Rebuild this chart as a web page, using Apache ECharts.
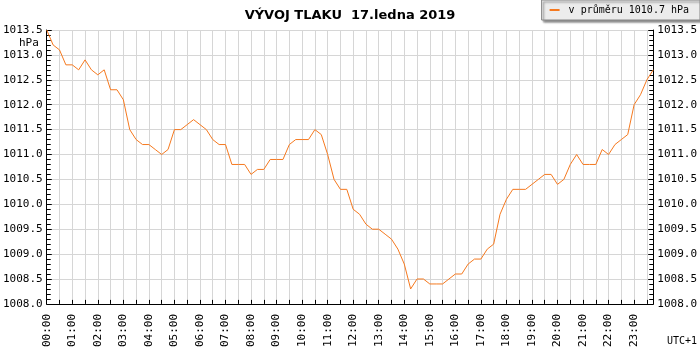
<!DOCTYPE html>
<html>
<head>
<meta charset="utf-8">
<script src="https://cdn.jsdelivr.net/npm/echarts@6/dist/echarts.min.js"></script>
<style>
  html, body { margin: 0; padding: 0; background: #fff; }
  #chart { width: 700px; height: 350px; }
</style>
</head>
<body>
<div id="chart"></div>
<script>
// pressure readings every 15 min, hPa
const pressure = [
  1013.5, 1013.2, 1013.1, 1012.8, 1012.8, 1012.7, 1012.9, 1012.7,
  1012.6, 1012.7, 1012.3, 1012.3, 1012.1, 1011.5, 1011.3, 1011.2,
  1011.2, 1011.1, 1011.0, 1011.1, 1011.5, 1011.5, 1011.6, 1011.7,
  1011.6, 1011.5, 1011.3, 1011.2, 1011.2, 1010.8, 1010.8, 1010.8,
  1010.6, 1010.7, 1010.7, 1010.9, 1010.9, 1010.9, 1011.2, 1011.3,
  1011.3, 1011.3, 1011.5, 1011.4, 1011.0, 1010.5, 1010.3, 1010.3,
  1009.9, 1009.8, 1009.6, 1009.5, 1009.5, 1009.4, 1009.3, 1009.1,
  1008.8, 1008.3, 1008.5, 1008.5, 1008.4, 1008.4, 1008.4, 1008.5,
  1008.6, 1008.6, 1008.8, 1008.9, 1008.9, 1009.1, 1009.2, 1009.8,
  1010.1, 1010.3, 1010.3, 1010.3, 1010.4, 1010.5, 1010.6, 1010.6,
  1010.4, 1010.5, 1010.8, 1011.0, 1010.8, 1010.8, 1010.8, 1011.1,
  1011.0, 1011.2, 1011.3, 1011.4, 1012.0, 1012.2, 1012.5, 1012.7
]
// time categories 00:00 .. 23:45
const times = []
for (let h = 0; h < 24; h++) {
  for (let m = 0; m < 60; m += 15) {
    times.push(String(h).padStart(2, '0') + ':' + String(m).padStart(2, '0'))
  }
}
const seriesName = 'v průměru 1010.7 hPa'
const titleText = 'VÝVOJ TLAKU  17.ledna 2019'
const yMin = 1008.0
const yMax = 1013.5

const mono = '"DejaVu Sans Mono", "Liberation Mono", monospace'
const lineColor = '#f5791f'

const chart = echarts.init(document.getElementById('chart'), null, { renderer: 'canvas' })

function yAxisCfg(pos) {
  return {
    type: 'value',
    position: pos,
    min: yMin,
    max: yMax,
    interval: 0.5,
    axisLine: { show: true, lineStyle: { color: '#000', width: 1 } },
    axisTick: { show: true, inside: true, length: 5, lineStyle: { color: '#000' } },
    minorTick: { show: true, splitNumber: 5, length: 4, lineStyle: { color: '#000' } },
    axisLabel: {
      color: '#000', fontFamily: mono, fontSize: 11, margin: 4,
      formatter: v => v.toFixed(1)
    },
    splitLine: { show: pos === 'left', lineStyle: { color: '#d6d6d6', width: 1 } }
  }
}

chart.setOption({
  animation: false,
  backgroundColor: '#fff',
  title: {
    text: titleText,
    left: 'center',
    top: 4,
    textStyle: { fontFamily: '"DejaVu Sans", Verdana, sans-serif', fontSize: 13, fontWeight: 'bold', color: '#000' }
  },
  legend: {
    right: 0,
    top: 0,
    padding: [5, 11, 5, 8],
    itemWidth: 10,
    itemHeight: 2,
    icon: 'rect',
    backgroundColor: '#ececec',
    borderColor: '#888',
    borderWidth: 1,
    shadowColor: 'rgba(0,0,0,0.45)',
    shadowOffsetX: 2,
    shadowOffsetY: 2,
    shadowBlur: 2,
    textStyle: { fontFamily: mono, fontSize: 10, color: '#000', padding: [0, 0, 0, 4] },
    data: [seriesName]
  },
  grid: { left: 43, right: 46, top: 30, bottom: 45 },
  xAxis: {
    type: 'category',
    data: times,
    boundaryGap: false,
    axisLine: { lineStyle: { color: '#000', width: 1 } },
    axisTick: { show: true, inside: true, length: 4, interval: 1, lineStyle: { color: '#000' } },
    axisLabel: {
      interval: 3, rotate: 90, margin: 10,
      color: '#000', fontFamily: mono, fontSize: 11
    },
    splitLine: { show: true, interval: 1, lineStyle: { color: '#d6d6d6', width: 1 } }
  },
  yAxis: [yAxisCfg('left'), yAxisCfg('right')],
  graphic: [
    {
      type: 'text', left: 19, top: 38,
      style: { text: 'hPa', font: '11px ' + mono, fill: '#000' }
    },
    {
      type: 'text', right: 3, top: 336,
      style: { text: 'UTC+1', font: '10px ' + mono, fill: '#000' }
    }
  ],
  series: [
    {
      name: seriesName,
      type: 'line',
      data: pressure,
      yAxisIndex: 0,
      showSymbol: false,
      symbol: 'none',
      lineStyle: { color: lineColor, width: 1 },
      itemStyle: { color: lineColor }
    }
  ]
})
</script>
</body>
</html>
